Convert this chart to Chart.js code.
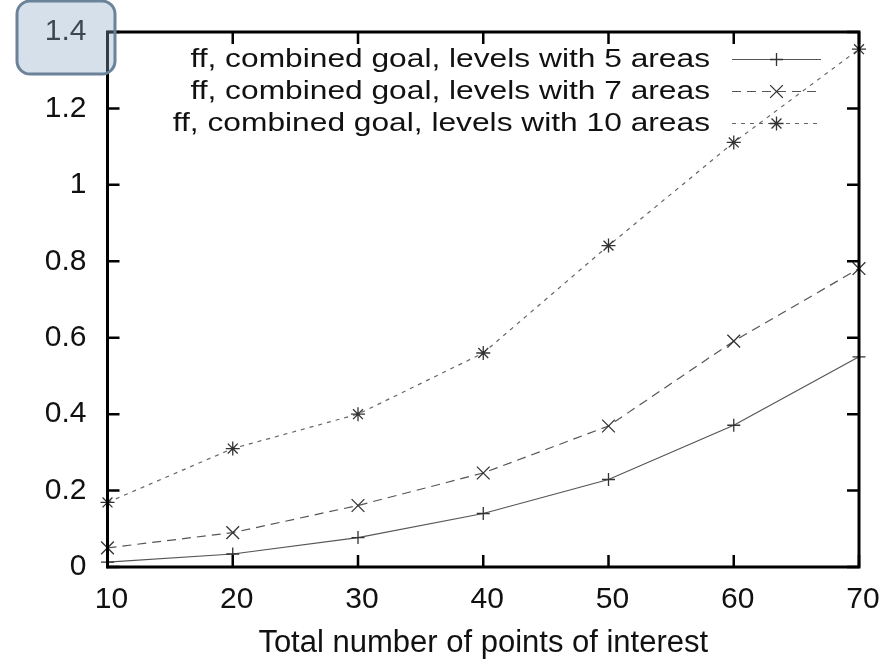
<!DOCTYPE html>
<html>
<head>
<meta charset="utf-8">
<script src="https://cdn.jsdelivr.net/npm/chart.js"></script>
<style>
  html, body { margin: 0; padding: 0; background: #fff; }
  .chart-size { position: relative; width: 885px; height: 665px; }
</style>
</head>
<body>
<div class="chart-size"><canvas id="chart"></canvas></div>
<script>
// values
const poi = [10, 20, 30, 40, 50, 60, 70];
const areas5 = [0.013, 0.034, 0.077, 0.140, 0.229, 0.371, 0.550];
const areas7 = [0.050, 0.090, 0.161, 0.246, 0.369, 0.591, 0.781];
const areas10 = [0.169, 0.310, 0.400, 0.560, 0.841, 1.111, 1.355];
const seriesLabels = [
  "ff, combined goal, levels with 5 areas",
  "ff, combined goal, levels with 7 areas",
  "ff, combined goal, levels with 10 areas"
];
const xTicks = [10, 20, 30, 40, 50, 60, 70];
const yTicks = [0, 0.2, 0.4, 0.6, 0.8, 1, 1.2, 1.4];

const FONT = "'Liberation Sans', Arial, Helvetica, sans-serif";

function pairs(values) {
  return poi.map((x, i) => ({ x, y: values[i] }));
}

// frame with inward ticks on all four sides, like gnuplot
const framePlugin = {
  id: "frame",
  afterDatasetsDraw(chart) {
    const { ctx, chartArea: a, scales } = chart;
    ctx.save();
    ctx.strokeStyle = "#000";
    ctx.lineWidth = 2.5;
    const len = 12;
    ctx.beginPath();
    xTicks.forEach(v => {
      const px = scales.x.getPixelForValue(v);
      ctx.moveTo(px, a.bottom); ctx.lineTo(px, a.bottom - len);
      ctx.moveTo(px, a.top); ctx.lineTo(px, a.top + len);
    });
    yTicks.forEach(v => {
      const py = scales.y.getPixelForValue(v);
      ctx.moveTo(a.left, py); ctx.lineTo(a.left + len, py);
      ctx.moveTo(a.right, py); ctx.lineTo(a.right - len, py);
    });
    ctx.stroke();
    ctx.lineWidth = 3;
    ctx.strokeRect(a.left, a.top, a.right - a.left, a.bottom - a.top);
    ctx.restore();
  }
};

// key in the top right, text right aligned, sample on the right
const keyPlugin = {
  id: "key",
  afterDatasetsDraw(chart) {
    const { ctx, chartArea: a } = chart;
    const textRight = a.right - 149;
    const lineL = a.right - 127;
    const lineR = a.right - 38;
    ctx.save();
    chart.data.datasets.forEach((ds, i) => {
      const y = a.top + 27.5 + i * 32;
      ctx.save();
      ctx.translate(textRight, y);
      ctx.scale(1.22, 1);
      ctx.font = "26px " + FONT;
      ctx.fillStyle = "#111";
      ctx.textAlign = "right";
      ctx.textBaseline = "middle";
      ctx.fillText(ds.label, 0, 0);
      ctx.restore();

      ctx.strokeStyle = ds.borderColor;
      ctx.lineWidth = ds.borderWidth;
      ctx.setLineDash(ds.borderDash || []);
      ctx.beginPath();
      ctx.moveTo(lineL, y);
      ctx.lineTo(lineR, y);
      ctx.stroke();
      ctx.setLineDash([]);

      ctx.strokeStyle = ds.pointBorderColor;
      ctx.lineWidth = ds.pointBorderWidth;
      Chart.helpers.drawPoint(ctx, {
        pointStyle: ds.pointStyle,
        radius: ds.pointRadius,
        rotation: 0,
        borderWidth: ds.pointBorderWidth
      }, (lineL + lineR) / 2, y);
    });
    ctx.restore();
  }
};

// the rounded callout box over the top left corner
const calloutPlugin = {
  id: "callout",
  afterDraw(chart) {
    const { ctx } = chart;
    const x = 17, y = 1, w = 98, h = 73, r = 13;
    ctx.save();
    ctx.beginPath();
    ctx.moveTo(x + r, y);
    ctx.arcTo(x + w, y, x + w, y + h, r);
    ctx.arcTo(x + w, y + h, x, y + h, r);
    ctx.arcTo(x, y + h, x, y, r);
    ctx.arcTo(x, y, x + w, y, r);
    ctx.closePath();
    ctx.fillStyle = "rgba(139, 169, 197, 0.36)";
    ctx.fill();
    ctx.strokeStyle = "#6b8399";
    ctx.lineWidth = 3;
    ctx.stroke();
    ctx.restore();
  }
};

const seriesValues = [areas5, areas7, areas10];
const seriesStyles = [
  { borderColor: "#555", borderDash: [], pointStyle: "cross", pointRadius: 6.5 },
  { borderColor: "#555", borderDash: [9, 6], pointStyle: "crossRot", pointRadius: 9 },
  { borderColor: "#666", borderDash: [4, 5], pointStyle: "star", pointRadius: 7 }
];

new Chart(document.getElementById("chart"), {
  type: "line",
  data: {
    datasets: seriesValues.map((values, i) => ({
      label: seriesLabels[i],
      data: pairs(values),
      borderColor: seriesStyles[i].borderColor,
      borderWidth: 1.2,
      borderDash: seriesStyles[i].borderDash,
      pointStyle: seriesStyles[i].pointStyle,
      pointRadius: seriesStyles[i].pointRadius,
      pointBorderColor: "#333",
      pointBorderWidth: 1.3,
      pointBackgroundColor: "#333",
      tension: 0,
      fill: false,
      clip: false
    }))
  },
  options: {
    responsive: true,
    maintainAspectRatio: false,
    animation: false,
    layout: { padding: { left: 0, top: 32, right: 26, bottom: 0 } },
    plugins: {
      legend: { display: false },
      tooltip: { enabled: false }
    },
    scales: {
      x: {
        type: "linear",
        min: 10,
        max: 70,
        afterBuildTicks: scale => { scale.ticks = xTicks.map(v => ({ value: v })); },
        afterFit: scale => {
          scale.height = 98;
          scale.paddingLeft = 0;
          scale.paddingRight = 0;
        },
        grid: { display: false, drawTicks: false },
        border: { display: false },
        ticks: {
          padding: 15,
          labelOffset: 4,
          color: "#111",
          font: { family: FONT, size: 30 }
        },
        title: {
          display: true,
          text: "Total number of points of interest",
          color: "#111",
          font: { family: FONT, size: 31 },
          padding: { top: 0, bottom: 3 }
        }
      },
      y: {
        type: "linear",
        min: 0,
        max: 1.4,
        afterBuildTicks: scale => { scale.ticks = yTicks.map(v => ({ value: v })); },
        afterFit: scale => {
          scale.width = 107.5;
          scale.paddingTop = 0;
          scale.paddingBottom = 0;
        },
        grid: { display: false, drawTicks: false },
        border: { display: false },
        ticks: {
          padding: 21,
          color: "#111",
          font: { family: FONT, size: 30 },
          callback: v => String(Number(v.toFixed(1)))
        }
      }
    }
  },
  plugins: [framePlugin, keyPlugin, calloutPlugin]
});
</script>
</body>
</html>
